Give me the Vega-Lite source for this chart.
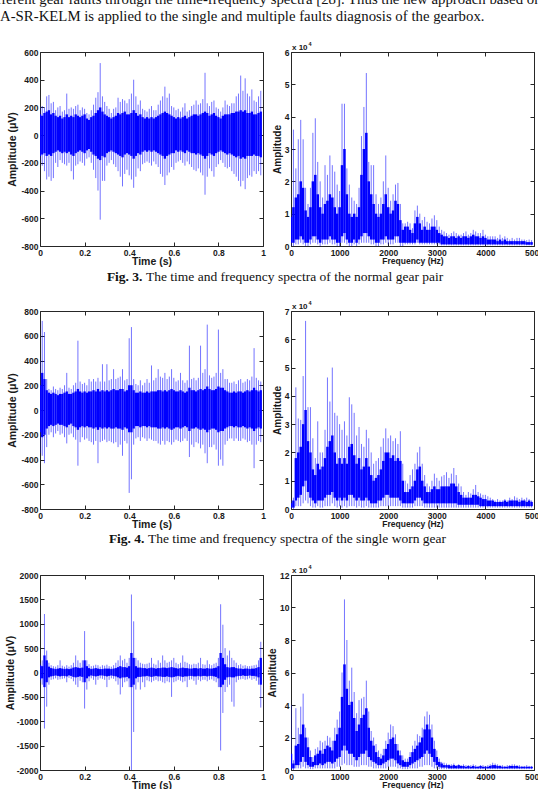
{
"$schema": "https://vega.github.io/schema/vega-lite/v6.json",
"autosize": {"type": "none"},
"padding": {"left": 40, "top": 0, "right": 498, "bottom": 789},
"background": "white",
"columns": 2,
"spacing": {"row": 0, "column": 28},
"align": "each",
"bounds": "flush",
"config": {
 "view": {"stroke": "#262626", "strokeWidth": 1},
 "axis": {"grid": false, "domain": false, "labelFont": "Liberation Sans", "labelFontWeight": "bold", "labelFontSize": 8.5, "labelColor": "#1a1a1a", "titleFont": "Liberation Sans", "titleFontWeight": "bold", "titleColor": "#1a1a1a", "tickColor": "#262626", "tickSize": -4, "labelPadding": 6, "labelFlush": false, "labelOverlap": false}
},
"datasets": {
 "p1": [
{"x":0.00,"a":-150,"b":150,"c":-180,"d":200},{"x":0.01,"a":-140,"b":140,"c":-220,"d":210},{"x":0.02,"a":-130,"b":160,"c":-260,"d":200},{"x":0.03,"a":-150,"b":170,"c":-320,"d":280},{"x":0.04,"a":-140,"b":180,"c":-300,"d":290},{"x":0.05,"a":-150,"b":150,"c":-330,"d":230},{"x":0.06,"a":-130,"b":160,"c":-310,"d":240},{"x":0.07,"a":-120,"b":140,"c":-200,"d":180},{"x":0.08,"a":-110,"b":130,"c":-230,"d":200},{"x":0.09,"a":-120,"b":140,"c":-180,"d":210},
{"x":0.10,"a":-130,"b":120,"c":-200,"d":170},{"x":0.11,"a":-120,"b":130,"c":-210,"d":180},{"x":0.12,"a":-130,"b":150,"c":-220,"d":300},{"x":0.13,"a":-120,"b":130,"c":-200,"d":190},{"x":0.14,"a":-140,"b":140,"c":-260,"d":200},{"x":0.15,"a":-150,"b":130,"c":-320,"d":190},{"x":0.16,"a":-130,"b":150,"c":-220,"d":210},{"x":0.17,"a":-120,"b":140,"c":-210,"d":220},{"x":0.18,"a":-110,"b":130,"c":-190,"d":180},{"x":0.19,"a":-120,"b":140,"c":-200,"d":200},
{"x":0.20,"a":-130,"b":150,"c":-220,"d":190},{"x":0.21,"a":-110,"b":120,"c":-170,"d":160},{"x":0.22,"a":-100,"b":110,"c":-160,"d":150},{"x":0.23,"a":-120,"b":130,"c":-200,"d":180},{"x":0.24,"a":-140,"b":140,"c":-250,"d":220},{"x":0.25,"a":-150,"b":160,"c":-310,"d":270},{"x":0.26,"a":-170,"b":180,"c":-400,"d":310},{"x":0.27,"a":-180,"b":200,"c":-610,"d":520},{"x":0.28,"a":-150,"b":170,"c":-330,"d":280},{"x":0.29,"a":-160,"b":150,"c":-330,"d":240},
{"x":0.30,"a":-130,"b":140,"c":-220,"d":210},{"x":0.31,"a":-120,"b":130,"c":-200,"d":190},{"x":0.32,"a":-110,"b":120,"c":-180,"d":160},{"x":0.33,"a":-120,"b":130,"c":-210,"d":190},{"x":0.34,"a":-130,"b":140,"c":-230,"d":200},{"x":0.35,"a":-140,"b":160,"c":-260,"d":270},{"x":0.36,"a":-150,"b":150,"c":-300,"d":240},{"x":0.37,"a":-160,"b":160,"c":-370,"d":260},{"x":0.38,"a":-140,"b":170,"c":-280,"d":250},{"x":0.39,"a":-130,"b":150,"c":-250,"d":230},
{"x":0.40,"a":-140,"b":150,"c":-290,"d":260},{"x":0.41,"a":-150,"b":160,"c":-320,"d":300},{"x":0.42,"a":-170,"b":180,"c":-380,"d":400},{"x":0.43,"a":-150,"b":160,"c":-300,"d":280},{"x":0.44,"a":-130,"b":140,"c":-240,"d":220},{"x":0.45,"a":-140,"b":150,"c":-260,"d":250},{"x":0.46,"a":-120,"b":130,"c":-210,"d":190},{"x":0.47,"a":-110,"b":120,"c":-200,"d":180},{"x":0.48,"a":-120,"b":130,"c":-190,"d":170},{"x":0.49,"a":-110,"b":120,"c":-200,"d":190},
{"x":0.50,"a":-120,"b":130,"c":-220,"d":210},{"x":0.51,"a":-110,"b":120,"c":-190,"d":180},{"x":0.52,"a":-120,"b":130,"c":-210,"d":180},{"x":0.53,"a":-130,"b":140,"c":-230,"d":220},{"x":0.54,"a":-140,"b":150,"c":-280,"d":250},{"x":0.55,"a":-150,"b":160,"c":-300,"d":280},{"x":0.56,"a":-170,"b":170,"c":-360,"d":350},{"x":0.57,"a":-150,"b":160,"c":-290,"d":270},{"x":0.58,"a":-140,"b":150,"c":-270,"d":300},{"x":0.59,"a":-130,"b":140,"c":-230,"d":210},
{"x":0.60,"a":-130,"b":130,"c":-250,"d":200},{"x":0.61,"a":-110,"b":120,"c":-200,"d":180},{"x":0.62,"a":-120,"b":130,"c":-190,"d":190},{"x":0.63,"a":-110,"b":120,"c":-180,"d":170},{"x":0.64,"a":-120,"b":130,"c":-200,"d":200},{"x":0.65,"a":-130,"b":140,"c":-220,"d":230},{"x":0.66,"a":-110,"b":120,"c":-190,"d":170},{"x":0.67,"a":-120,"b":130,"c":-210,"d":180},{"x":0.68,"a":-130,"b":140,"c":-230,"d":210},{"x":0.69,"a":-130,"b":150,"c":-250,"d":220},
{"x":0.70,"a":-140,"b":150,"c":-260,"d":250},{"x":0.71,"a":-130,"b":140,"c":-240,"d":220},{"x":0.72,"a":-140,"b":150,"c":-270,"d":230},{"x":0.73,"a":-150,"b":160,"c":-290,"d":260},{"x":0.74,"a":-170,"b":170,"c":-430,"d":450},{"x":0.75,"a":-150,"b":160,"c":-300,"d":230},{"x":0.76,"a":-130,"b":140,"c":-240,"d":210},{"x":0.77,"a":-140,"b":150,"c":-260,"d":240},{"x":0.78,"a":-150,"b":160,"c":-300,"d":250},{"x":0.79,"a":-130,"b":140,"c":-230,"d":200},
{"x":0.80,"a":-120,"b":130,"c":-210,"d":190},{"x":0.81,"a":-110,"b":120,"c":-180,"d":170},{"x":0.82,"a":-120,"b":140,"c":-200,"d":200},{"x":0.83,"a":-130,"b":150,"c":-230,"d":250},{"x":0.84,"a":-140,"b":150,"c":-240,"d":220},{"x":0.85,"a":-130,"b":150,"c":-230,"d":210},{"x":0.86,"a":-140,"b":160,"c":-260,"d":230},{"x":0.87,"a":-150,"b":160,"c":-280,"d":230},{"x":0.88,"a":-160,"b":170,"c":-300,"d":280},{"x":0.89,"a":-150,"b":170,"c":-330,"d":300},
{"x":0.90,"a":-170,"b":180,"c":-370,"d":430},{"x":0.91,"a":-160,"b":170,"c":-330,"d":320},{"x":0.92,"a":-170,"b":180,"c":-390,"d":410},{"x":0.93,"a":-150,"b":160,"c":-310,"d":300},{"x":0.94,"a":-150,"b":160,"c":-290,"d":280},{"x":0.95,"a":-150,"b":170,"c":-300,"d":330},{"x":0.96,"a":-140,"b":150,"c":-260,"d":250},{"x":0.97,"a":-150,"b":150,"c":-280,"d":240},{"x":0.98,"a":-150,"b":160,"c":-260,"d":280},{"x":0.99,"a":-160,"b":170,"c":-290,"d":320}
 ],
 "p2": [
{"x":0,"a":0.1,"b":0.9,"c":0,"d":1.0},{"x":50,"a":0.1,"b":1.2,"c":0,"d":3.6},{"x":100,"a":0.2,"b":1.5,"c":0.05,"d":2.4},{"x":150,"a":0.2,"b":1.6,"c":0.05,"d":3.3},{"x":200,"a":0.3,"b":2.0,"c":0.1,"d":3.9},{"x":250,"a":0.2,"b":1.8,"c":0.05,"d":3.3},{"x":300,"a":0.1,"b":1.1,"c":0,"d":1.8},{"x":350,"a":0.1,"b":0.9,"c":0,"d":1.3},{"x":400,"a":0.2,"b":1.2,"c":0.05,"d":1.8},{"x":450,"a":0.3,"b":2.0,"c":0.1,"d":3.5},
{"x":500,"a":0.3,"b":2.2,"c":0.1,"d":3.95},{"x":550,"a":0.2,"b":1.6,"c":0.05,"d":2.6},{"x":600,"a":0.1,"b":1.2,"c":0,"d":2.0},{"x":650,"a":0.2,"b":1.0,"c":0.05,"d":1.5},{"x":700,"a":0.2,"b":1.3,"c":0.05,"d":2.5},{"x":750,"a":0.2,"b":1.4,"c":0.05,"d":2.2},{"x":800,"a":0.3,"b":1.6,"c":0.1,"d":2.8},{"x":850,"a":0.2,"b":1.5,"c":0.05,"d":2.5},{"x":900,"a":0.2,"b":1.2,"c":0.05,"d":2.3},{"x":950,"a":0.1,"b":1.0,"c":0,"d":1.9},
{"x":1000,"a":0.1,"b":1.2,"c":0,"d":1.7},{"x":1050,"a":0.3,"b":2.5,"c":0.1,"d":4.4},{"x":1100,"a":0.4,"b":3.0,"c":0.1,"d":4.4},{"x":1150,"a":0.2,"b":1.6,"c":0.05,"d":2.4},{"x":1200,"a":0.1,"b":1.0,"c":0,"d":1.9},{"x":1250,"a":0.1,"b":0.9,"c":0,"d":1.5},{"x":1300,"a":0.2,"b":1.0,"c":0.05,"d":1.4},{"x":1350,"a":0.1,"b":0.9,"c":0,"d":1.3},{"x":1400,"a":0.2,"b":1.2,"c":0.05,"d":1.8},{"x":1450,"a":0.3,"b":2.2,"c":0.1,"d":3.4},
{"x":1500,"a":0.4,"b":3.0,"c":0.1,"d":4.3},{"x":1550,"a":0.4,"b":3.5,"c":0.1,"d":5.35},{"x":1600,"a":0.3,"b":2.0,"c":0.1,"d":2.6},{"x":1650,"a":0.2,"b":1.6,"c":0.05,"d":2.5},{"x":1700,"a":0.2,"b":1.3,"c":0.05,"d":2.5},{"x":1750,"a":0.1,"b":1.0,"c":0,"d":1.6},{"x":1800,"a":0.1,"b":0.9,"c":0,"d":1.3},{"x":1850,"a":0.2,"b":1.0,"c":0.05,"d":1.5},{"x":1900,"a":0.2,"b":1.3,"c":0.05,"d":2.0},{"x":1950,"a":0.3,"b":1.6,"c":0.1,"d":2.8},
{"x":2000,"a":0.2,"b":1.2,"c":0.05,"d":1.8},{"x":2050,"a":0.2,"b":1.0,"c":0.05,"d":1.4},{"x":2100,"a":0.2,"b":1.1,"c":0.05,"d":1.6},{"x":2150,"a":0.3,"b":1.4,"c":0.1,"d":1.9},{"x":2200,"a":0.3,"b":1.3,"c":0.1,"d":1.95},{"x":2250,"a":0.1,"b":0.8,"c":0,"d":1.3},{"x":2300,"a":0.1,"b":0.5,"c":0,"d":0.7},{"x":2350,"a":0.1,"b":0.6,"c":0.05,"d":0.7},{"x":2400,"a":0.1,"b":0.6,"c":0.05,"d":0.75},{"x":2450,"a":0.1,"b":0.5,"c":0.05,"d":0.7},
{"x":2500,"a":0.1,"b":0.4,"c":0.05,"d":0.55},{"x":2550,"a":0.1,"b":0.7,"c":0.05,"d":1.1},{"x":2600,"a":0.2,"b":0.9,"c":0.1,"d":1.25},{"x":2650,"a":0.1,"b":0.7,"c":0.05,"d":1.0},{"x":2700,"a":0.1,"b":0.5,"c":0.05,"d":0.8},{"x":2750,"a":0.1,"b":0.6,"c":0.05,"d":0.9},{"x":2800,"a":0.1,"b":0.5,"c":0.05,"d":0.75},{"x":2850,"a":0.1,"b":0.5,"c":0.05,"d":0.7},{"x":2900,"a":0.1,"b":0.6,"c":0.05,"d":0.85},{"x":2950,"a":0.1,"b":0.6,"c":0.05,"d":0.95},
{"x":3000,"a":0.1,"b":0.5,"c":0.05,"d":0.8},{"x":3050,"a":0.1,"b":0.4,"c":0.05,"d":0.6},{"x":3100,"a":0.05,"b":0.35,"c":0.02,"d":0.5},{"x":3150,"a":0.05,"b":0.3,"c":0.02,"d":0.45},{"x":3200,"a":0.05,"b":0.3,"c":0.02,"d":0.4},{"x":3250,"a":0.05,"b":0.25,"c":0.02,"d":0.35},{"x":3300,"a":0.05,"b":0.3,"c":0.02,"d":0.4},{"x":3350,"a":0.05,"b":0.3,"c":0.02,"d":0.45},{"x":3400,"a":0.05,"b":0.25,"c":0.02,"d":0.4},{"x":3450,"a":0.05,"b":0.3,"c":0.02,"d":0.35},
{"x":3500,"a":0.05,"b":0.25,"c":0.02,"d":0.35},{"x":3550,"a":0.05,"b":0.3,"c":0.02,"d":0.4},{"x":3600,"a":0.05,"b":0.3,"c":0.02,"d":0.45},{"x":3650,"a":0.05,"b":0.25,"c":0.02,"d":0.35},{"x":3700,"a":0.05,"b":0.3,"c":0.02,"d":0.4},{"x":3750,"a":0.05,"b":0.35,"c":0.02,"d":0.5},{"x":3800,"a":0.05,"b":0.3,"c":0.02,"d":0.45},{"x":3850,"a":0.05,"b":0.3,"c":0.02,"d":0.4},{"x":3900,"a":0.05,"b":0.25,"c":0.02,"d":0.4},{"x":3950,"a":0.05,"b":0.3,"c":0.02,"d":0.5},
{"x":4000,"a":0.05,"b":0.25,"c":0.02,"d":0.35},{"x":4050,"a":0.05,"b":0.2,"c":0.02,"d":0.3},{"x":4100,"a":0.05,"b":0.2,"c":0.02,"d":0.3},{"x":4150,"a":0.05,"b":0.2,"c":0.02,"d":0.3},{"x":4200,"a":0.05,"b":0.2,"c":0.02,"d":0.3},{"x":4250,"a":0.05,"b":0.15,"c":0.02,"d":0.25},{"x":4300,"a":0.05,"b":0.2,"c":0.02,"d":0.35},{"x":4350,"a":0.05,"b":0.15,"c":0.02,"d":0.25},{"x":4400,"a":0.05,"b":0.2,"c":0.02,"d":0.3},{"x":4450,"a":0.05,"b":0.15,"c":0.02,"d":0.25},
{"x":4500,"a":0.05,"b":0.15,"c":0.02,"d":0.2},{"x":4550,"a":0.05,"b":0.15,"c":0.02,"d":0.25},{"x":4600,"a":0.05,"b":0.15,"c":0.02,"d":0.2},{"x":4650,"a":0.05,"b":0.15,"c":0.02,"d":0.25},{"x":4700,"a":0.05,"b":0.15,"c":0.02,"d":0.25},{"x":4750,"a":0.05,"b":0.15,"c":0.02,"d":0.2},{"x":4800,"a":0.05,"b":0.15,"c":0.02,"d":0.2},{"x":4850,"a":0.04,"b":0.12,"c":0.02,"d":0.18},{"x":4900,"a":0.04,"b":0.12,"c":0.02,"d":0.2},{"x":4950,"a":0.04,"b":0.12,"c":0.02,"d":0.18}
 ],
 "p3": [
{"x":0.00,"a":-180,"b":200,"c":-350,"d":400},{"x":0.01,"a":-220,"b":300,"c":-370,"d":720},{"x":0.02,"a":-200,"b":250,"c":-430,"d":630},{"x":0.03,"a":-150,"b":160,"c":-300,"d":250},{"x":0.04,"a":-130,"b":140,"c":-200,"d":170},{"x":0.05,"a":-120,"b":130,"c":-180,"d":160},{"x":0.06,"a":-130,"b":140,"c":-220,"d":190},{"x":0.07,"a":-120,"b":130,"c":-190,"d":170},{"x":0.08,"a":-110,"b":120,"c":-170,"d":160},{"x":0.09,"a":-120,"b":130,"c":-200,"d":180},
{"x":0.10,"a":-120,"b":130,"c":-190,"d":170},{"x":0.11,"a":-130,"b":140,"c":-220,"d":200},{"x":0.12,"a":-140,"b":150,"c":-270,"d":300},{"x":0.13,"a":-120,"b":130,"c":-200,"d":180},{"x":0.14,"a":-110,"b":130,"c":-190,"d":170},{"x":0.15,"a":-130,"b":140,"c":-220,"d":200},{"x":0.16,"a":-140,"b":150,"c":-240,"d":220},{"x":0.17,"a":-160,"b":170,"c":-450,"d":560},{"x":0.18,"a":-140,"b":150,"c":-260,"d":230},{"x":0.19,"a":-130,"b":140,"c":-220,"d":210},
{"x":0.20,"a":-140,"b":150,"c":-240,"d":220},{"x":0.21,"a":-130,"b":140,"c":-230,"d":200},{"x":0.22,"a":-140,"b":150,"c":-250,"d":250},{"x":0.23,"a":-140,"b":150,"c":-260,"d":230},{"x":0.24,"a":-150,"b":160,"c":-280,"d":250},{"x":0.25,"a":-140,"b":150,"c":-250,"d":230},{"x":0.26,"a":-160,"b":170,"c":-430,"d":260},{"x":0.27,"a":-140,"b":150,"c":-260,"d":230},{"x":0.28,"a":-150,"b":160,"c":-250,"d":370},{"x":0.29,"a":-140,"b":150,"c":-240,"d":230},
{"x":0.30,"a":-150,"b":160,"c":-260,"d":370},{"x":0.31,"a":-140,"b":150,"c":-250,"d":240},{"x":0.32,"a":-150,"b":160,"c":-260,"d":250},{"x":0.33,"a":-150,"b":170,"c":-270,"d":330},{"x":0.34,"a":-140,"b":160,"c":-260,"d":250},{"x":0.35,"a":-150,"b":160,"c":-300,"d":260},{"x":0.36,"a":-150,"b":170,"c":-280,"d":270},{"x":0.37,"a":-160,"b":170,"c":-370,"d":330},{"x":0.38,"a":-140,"b":150,"c":-250,"d":240},{"x":0.39,"a":-150,"b":160,"c":-270,"d":250},
{"x":0.40,"a":-180,"b":200,"c":-670,"d":580},{"x":0.41,"a":-180,"b":200,"c":-560,"d":670},{"x":0.42,"a":-150,"b":160,"c":-280,"d":250},{"x":0.43,"a":-130,"b":140,"c":-230,"d":210},{"x":0.44,"a":-130,"b":140,"c":-220,"d":200},{"x":0.45,"a":-140,"b":150,"c":-250,"d":240},{"x":0.46,"a":-130,"b":140,"c":-220,"d":200},{"x":0.47,"a":-130,"b":140,"c":-230,"d":220},{"x":0.48,"a":-140,"b":150,"c":-250,"d":250},{"x":0.49,"a":-130,"b":140,"c":-230,"d":220},
{"x":0.50,"a":-140,"b":150,"c":-240,"d":360},{"x":0.51,"a":-140,"b":150,"c":-250,"d":240},{"x":0.52,"a":-140,"b":150,"c":-250,"d":260},{"x":0.53,"a":-150,"b":160,"c":-270,"d":330},{"x":0.54,"a":-150,"b":160,"c":-280,"d":270},{"x":0.55,"a":-140,"b":150,"c":-250,"d":260},{"x":0.56,"a":-150,"b":160,"c":-280,"d":300},{"x":0.57,"a":-140,"b":150,"c":-250,"d":250},{"x":0.58,"a":-150,"b":160,"c":-260,"d":270},{"x":0.59,"a":-160,"b":170,"c":-280,"d":330},
{"x":0.60,"a":-150,"b":160,"c":-260,"d":260},{"x":0.61,"a":-140,"b":150,"c":-240,"d":230},{"x":0.62,"a":-140,"b":150,"c":-250,"d":240},{"x":0.63,"a":-150,"b":160,"c":-260,"d":300},{"x":0.64,"a":-140,"b":150,"c":-250,"d":240},{"x":0.65,"a":-130,"b":140,"c":-230,"d":220},{"x":0.66,"a":-140,"b":150,"c":-250,"d":240},{"x":0.67,"a":-170,"b":180,"c":-380,"d":520},{"x":0.68,"a":-150,"b":160,"c":-280,"d":250},{"x":0.69,"a":-150,"b":160,"c":-300,"d":260},
{"x":0.70,"a":-140,"b":150,"c":-260,"d":240},{"x":0.71,"a":-150,"b":160,"c":-270,"d":260},{"x":0.72,"a":-160,"b":170,"c":-310,"d":520},{"x":0.73,"a":-150,"b":160,"c":-280,"d":300},{"x":0.74,"a":-160,"b":170,"c":-350,"d":330},{"x":0.75,"a":-180,"b":190,"c":-430,"d":690},{"x":0.76,"a":-160,"b":170,"c":-300,"d":280},{"x":0.77,"a":-150,"b":160,"c":-300,"d":260},{"x":0.78,"a":-150,"b":160,"c":-280,"d":270},{"x":0.79,"a":-160,"b":170,"c":-320,"d":300},
{"x":0.80,"a":-180,"b":190,"c":-450,"d":650},{"x":0.81,"a":-170,"b":180,"c":-400,"d":300},{"x":0.82,"a":-170,"b":180,"c":-450,"d":330},{"x":0.83,"a":-150,"b":160,"c":-280,"d":250},{"x":0.84,"a":-140,"b":150,"c":-250,"d":250},{"x":0.85,"a":-130,"b":140,"c":-230,"d":220},{"x":0.86,"a":-130,"b":140,"c":-230,"d":220},{"x":0.87,"a":-140,"b":150,"c":-250,"d":230},{"x":0.88,"a":-130,"b":140,"c":-230,"d":210},{"x":0.89,"a":-140,"b":150,"c":-250,"d":240},
{"x":0.90,"a":-140,"b":150,"c":-250,"d":250},{"x":0.91,"a":-130,"b":140,"c":-230,"d":220},{"x":0.92,"a":-140,"b":150,"c":-240,"d":230},{"x":0.93,"a":-150,"b":160,"c":-260,"d":250},{"x":0.94,"a":-140,"b":150,"c":-250,"d":240},{"x":0.95,"a":-150,"b":160,"c":-280,"d":270},{"x":0.96,"a":-170,"b":180,"c":-470,"d":500},{"x":0.97,"a":-150,"b":160,"c":-280,"d":260},{"x":0.98,"a":-140,"b":150,"c":-250,"d":240},{"x":0.99,"a":-150,"b":160,"c":-260,"d":230}
 ],
 "p4": [
{"x":0,"a":0.05,"b":0.2,"c":0,"d":0.3},{"x":50,"a":0.05,"b":0.3,"c":0,"d":0.4},{"x":100,"a":0.3,"b":1.8,"c":0.1,"d":4.3},{"x":150,"a":0.4,"b":2.0,"c":0.1,"d":3.2},{"x":200,"a":0.5,"b":2.2,"c":0.1,"d":3.15},{"x":250,"a":0.8,"b":3.0,"c":0.2,"d":4.7},{"x":300,"a":1.0,"b":3.5,"c":0.3,"d":6.65},{"x":350,"a":0.6,"b":2.4,"c":0.2,"d":3.6},{"x":400,"a":0.4,"b":2.0,"c":0.1,"d":3.6},{"x":450,"a":0.3,"b":1.4,"c":0.05,"d":2.5},
{"x":500,"a":0.2,"b":1.2,"c":0.05,"d":1.8},{"x":550,"a":0.3,"b":1.6,"c":0.1,"d":3.1},{"x":600,"a":0.3,"b":1.4,"c":0.05,"d":2.0},{"x":650,"a":0.3,"b":1.5,"c":0.05,"d":2.0},{"x":700,"a":0.4,"b":1.8,"c":0.1,"d":2.8},{"x":750,"a":0.5,"b":2.2,"c":0.1,"d":4.65},{"x":800,"a":0.5,"b":2.4,"c":0.1,"d":3.8},{"x":850,"a":0.6,"b":2.6,"c":0.2,"d":5.0},{"x":900,"a":0.4,"b":2.0,"c":0.1,"d":3.4},{"x":950,"a":0.3,"b":1.6,"c":0.05,"d":3.3},
{"x":1000,"a":0.4,"b":1.8,"c":0.1,"d":3.0},{"x":1050,"a":0.3,"b":1.6,"c":0.05,"d":2.8},{"x":1100,"a":0.4,"b":1.8,"c":0.1,"d":3.1},{"x":1150,"a":0.3,"b":1.6,"c":0.05,"d":2.6},{"x":1200,"a":0.5,"b":2.2,"c":0.1,"d":3.95},{"x":1250,"a":0.5,"b":2.3,"c":0.1,"d":3.7},{"x":1300,"a":0.4,"b":1.9,"c":0.1,"d":3.4},{"x":1350,"a":0.3,"b":1.6,"c":0.05,"d":2.6},{"x":1400,"a":0.4,"b":1.8,"c":0.1,"d":2.9},{"x":1450,"a":0.3,"b":1.4,"c":0.05,"d":2.3},
{"x":1500,"a":0.3,"b":1.5,"c":0.05,"d":2.2},{"x":1550,"a":0.4,"b":1.8,"c":0.1,"d":2.8},{"x":1600,"a":0.3,"b":1.5,"c":0.05,"d":2.5},{"x":1650,"a":0.2,"b":1.2,"c":0.05,"d":2.0},{"x":1700,"a":0.2,"b":1.0,"c":0.05,"d":1.6},{"x":1750,"a":0.2,"b":1.1,"c":0.05,"d":1.7},{"x":1800,"a":0.3,"b":1.2,"c":0.05,"d":1.8},{"x":1850,"a":0.3,"b":1.4,"c":0.1,"d":2.2},{"x":1900,"a":0.4,"b":1.7,"c":0.1,"d":2.5},{"x":1950,"a":0.5,"b":2.0,"c":0.1,"d":2.85},
{"x":2000,"a":0.5,"b":2.0,"c":0.1,"d":2.5},{"x":2050,"a":0.4,"b":1.8,"c":0.1,"d":2.6},{"x":2100,"a":0.4,"b":1.9,"c":0.1,"d":2.4},{"x":2150,"a":0.4,"b":1.7,"c":0.1,"d":2.5},{"x":2200,"a":0.4,"b":1.8,"c":0.1,"d":2.3},{"x":2250,"a":0.3,"b":1.7,"c":0.1,"d":2.75},{"x":2300,"a":0.2,"b":1.0,"c":0.05,"d":1.6},{"x":2350,"a":0.2,"b":0.6,"c":0.05,"d":1.0},{"x":2400,"a":0.2,"b":0.6,"c":0.05,"d":0.9},{"x":2450,"a":0.2,"b":0.7,"c":0.05,"d":1.2},
{"x":2500,"a":0.2,"b":0.8,"c":0.05,"d":1.4},{"x":2550,"a":0.3,"b":1.0,"c":0.1,"d":1.6},{"x":2600,"a":0.4,"b":1.4,"c":0.1,"d":2.0},{"x":2650,"a":0.4,"b":1.5,"c":0.1,"d":2.2},{"x":2700,"a":0.3,"b":1.0,"c":0.1,"d":1.6},{"x":2750,"a":0.2,"b":0.8,"c":0.05,"d":1.2},{"x":2800,"a":0.2,"b":0.6,"c":0.05,"d":0.9},{"x":2850,"a":0.2,"b":0.6,"c":0.05,"d":0.8},{"x":2900,"a":0.2,"b":0.7,"c":0.05,"d":1.0},{"x":2950,"a":0.2,"b":0.8,"c":0.05,"d":1.25},
{"x":3000,"a":0.2,"b":0.7,"c":0.05,"d":1.1},{"x":3050,"a":0.2,"b":0.7,"c":0.05,"d":1.0},{"x":3100,"a":0.2,"b":0.8,"c":0.05,"d":1.15},{"x":3150,"a":0.2,"b":0.8,"c":0.05,"d":1.2},{"x":3200,"a":0.2,"b":0.8,"c":0.05,"d":1.3},{"x":3250,"a":0.2,"b":0.8,"c":0.05,"d":1.1},{"x":3300,"a":0.2,"b":0.9,"c":0.05,"d":1.25},{"x":3350,"a":0.2,"b":0.9,"c":0.05,"d":1.45},{"x":3400,"a":0.2,"b":0.8,"c":0.05,"d":1.2},{"x":3450,"a":0.15,"b":0.6,"c":0.05,"d":0.9},
{"x":3500,"a":0.15,"b":0.5,"c":0.05,"d":0.8},{"x":3550,"a":0.15,"b":0.4,"c":0.05,"d":0.6},{"x":3600,"a":0.15,"b":0.4,"c":0.05,"d":0.5},{"x":3650,"a":0.15,"b":0.4,"c":0.05,"d":0.6},{"x":3700,"a":0.15,"b":0.4,"c":0.05,"d":0.55},{"x":3750,"a":0.15,"b":0.5,"c":0.05,"d":0.7},{"x":3800,"a":0.15,"b":0.5,"c":0.05,"d":0.85},{"x":3850,"a":0.15,"b":0.45,"c":0.05,"d":0.6},{"x":3900,"a":0.1,"b":0.4,"c":0.05,"d":0.55},{"x":3950,"a":0.1,"b":0.35,"c":0.05,"d":0.5},
{"x":4000,"a":0.1,"b":0.35,"c":0.05,"d":0.5},{"x":4050,"a":0.1,"b":0.3,"c":0.05,"d":0.45},{"x":4100,"a":0.1,"b":0.3,"c":0.05,"d":0.4},{"x":4150,"a":0.1,"b":0.3,"c":0.05,"d":0.35},{"x":4200,"a":0.1,"b":0.25,"c":0.05,"d":0.3},{"x":4250,"a":0.1,"b":0.25,"c":0.05,"d":0.35},{"x":4300,"a":0.1,"b":0.25,"c":0.05,"d":0.3},{"x":4350,"a":0.1,"b":0.25,"c":0.05,"d":0.3},{"x":4400,"a":0.1,"b":0.3,"c":0.05,"d":0.35},{"x":4450,"a":0.1,"b":0.25,"c":0.05,"d":0.3},
{"x":4500,"a":0.1,"b":0.3,"c":0.05,"d":0.4},{"x":4550,"a":0.1,"b":0.3,"c":0.05,"d":0.35},{"x":4600,"a":0.1,"b":0.3,"c":0.05,"d":0.45},{"x":4650,"a":0.1,"b":0.3,"c":0.05,"d":0.4},{"x":4700,"a":0.1,"b":0.25,"c":0.05,"d":0.35},{"x":4750,"a":0.1,"b":0.3,"c":0.05,"d":0.4},{"x":4800,"a":0.1,"b":0.3,"c":0.05,"d":0.35},{"x":4850,"a":0.1,"b":0.25,"c":0.05,"d":0.4},{"x":4900,"a":0.1,"b":0.3,"c":0.05,"d":0.35},{"x":4950,"a":0.1,"b":0.25,"c":0.05,"d":0.3}
 ],
 "p5": [
{"x":0.00,"a":-150,"b":150,"c":-200,"d":200},{"x":0.01,"a":-120,"b":130,"c":-250,"d":250},{"x":0.02,"a":-300,"b":350,"c":-1150,"d":1200},{"x":0.03,"a":-200,"b":250,"c":-700,"d":450},{"x":0.04,"a":-100,"b":120,"c":-250,"d":200},{"x":0.05,"a":-80,"b":90,"c":-150,"d":150},{"x":0.06,"a":-70,"b":80,"c":-140,"d":130},{"x":0.07,"a":-60,"b":70,"c":-120,"d":120},{"x":0.08,"a":-70,"b":80,"c":-150,"d":150},{"x":0.09,"a":-80,"b":90,"c":-140,"d":250},
{"x":0.10,"a":-70,"b":80,"c":-130,"d":140},{"x":0.11,"a":-70,"b":70,"c":-120,"d":120},{"x":0.12,"a":-80,"b":80,"c":-200,"d":150},{"x":0.13,"a":-60,"b":70,"c":-110,"d":120},{"x":0.14,"a":-70,"b":80,"c":-130,"d":150},{"x":0.15,"a":-90,"b":100,"c":-180,"d":200},{"x":0.16,"a":-100,"b":110,"c":-250,"d":350},{"x":0.17,"a":-90,"b":100,"c":-300,"d":250},{"x":0.18,"a":-80,"b":90,"c":-170,"d":200},{"x":0.19,"a":-90,"b":100,"c":-200,"d":250},
{"x":0.20,"a":-200,"b":250,"c":-740,"d":850},{"x":0.21,"a":-120,"b":130,"c":-350,"d":250},{"x":0.22,"a":-80,"b":90,"c":-180,"d":170},{"x":0.23,"a":-60,"b":70,"c":-120,"d":130},{"x":0.24,"a":-70,"b":80,"c":-150,"d":140},{"x":0.25,"a":-80,"b":90,"c":-250,"d":160},{"x":0.26,"a":-70,"b":80,"c":-150,"d":150},{"x":0.27,"a":-60,"b":70,"c":-120,"d":120},{"x":0.28,"a":-60,"b":70,"c":-130,"d":150},{"x":0.29,"a":-70,"b":80,"c":-150,"d":140},
{"x":0.30,"a":-80,"b":80,"c":-300,"d":160},{"x":0.31,"a":-70,"b":80,"c":-150,"d":130},{"x":0.32,"a":-60,"b":70,"c":-120,"d":120},{"x":0.33,"a":-70,"b":80,"c":-130,"d":150},{"x":0.34,"a":-80,"b":90,"c":-180,"d":200},{"x":0.35,"a":-100,"b":110,"c":-250,"d":250},{"x":0.36,"a":-120,"b":130,"c":-450,"d":350},{"x":0.37,"a":-100,"b":110,"c":-300,"d":250},{"x":0.38,"a":-100,"b":110,"c":-200,"d":280},{"x":0.39,"a":-90,"b":100,"c":-180,"d":200},
{"x":0.40,"a":-120,"b":130,"c":-300,"d":300},{"x":0.41,"a":-300,"b":400,"c":-2000,"d":1600},{"x":0.42,"a":-250,"b":300,"c":-1220,"d":1050},{"x":0.43,"a":-120,"b":130,"c":-350,"d":300},{"x":0.44,"a":-90,"b":100,"c":-200,"d":250},{"x":0.45,"a":-90,"b":100,"c":-350,"d":200},{"x":0.46,"a":-80,"b":90,"c":-200,"d":180},{"x":0.47,"a":-80,"b":90,"c":-300,"d":170},{"x":0.48,"a":-70,"b":80,"c":-160,"d":180},{"x":0.49,"a":-80,"b":90,"c":-180,"d":200},
{"x":0.50,"a":-90,"b":100,"c":-200,"d":300},{"x":0.51,"a":-80,"b":90,"c":-170,"d":180},{"x":0.52,"a":-70,"b":80,"c":-150,"d":160},{"x":0.53,"a":-80,"b":90,"c":-180,"d":250},{"x":0.54,"a":-80,"b":90,"c":-170,"d":200},{"x":0.55,"a":-90,"b":100,"c":-200,"d":350},{"x":0.56,"a":-90,"b":100,"c":-220,"d":250},{"x":0.57,"a":-80,"b":90,"c":-180,"d":200},{"x":0.58,"a":-90,"b":100,"c":-200,"d":220},{"x":0.59,"a":-100,"b":110,"c":-500,"d":250},
{"x":0.60,"a":-90,"b":100,"c":-200,"d":300},{"x":0.61,"a":-80,"b":90,"c":-180,"d":200},{"x":0.62,"a":-70,"b":80,"c":-150,"d":170},{"x":0.63,"a":-80,"b":90,"c":-170,"d":200},{"x":0.64,"a":-90,"b":100,"c":-200,"d":350},{"x":0.65,"a":-80,"b":90,"c":-180,"d":220},{"x":0.66,"a":-80,"b":90,"c":-300,"d":200},{"x":0.67,"a":-70,"b":80,"c":-150,"d":170},{"x":0.68,"a":-70,"b":80,"c":-140,"d":160},{"x":0.69,"a":-80,"b":90,"c":-170,"d":180},
{"x":0.70,"a":-80,"b":90,"c":-250,"d":170},{"x":0.71,"a":-70,"b":80,"c":-150,"d":200},{"x":0.72,"a":-80,"b":90,"c":-180,"d":300},{"x":0.73,"a":-70,"b":80,"c":-150,"d":170},{"x":0.74,"a":-70,"b":80,"c":-150,"d":160},{"x":0.75,"a":-80,"b":90,"c":-180,"d":250},{"x":0.76,"a":-70,"b":80,"c":-150,"d":170},{"x":0.77,"a":-70,"b":80,"c":-140,"d":150},{"x":0.78,"a":-80,"b":90,"c":-170,"d":180},{"x":0.79,"a":-90,"b":100,"c":-200,"d":200},
{"x":0.80,"a":-120,"b":130,"c":-300,"d":300},{"x":0.81,"a":-300,"b":400,"c":-1600,"d":1400},{"x":0.82,"a":-250,"b":300,"c":-830,"d":980},{"x":0.83,"a":-150,"b":170,"c":-400,"d":500},{"x":0.84,"a":-100,"b":110,"c":-300,"d":350},{"x":0.85,"a":-90,"b":100,"c":-250,"d":450},{"x":0.86,"a":-100,"b":110,"c":-600,"d":300},{"x":0.87,"a":-100,"b":110,"c":-700,"d":250},{"x":0.88,"a":-80,"b":90,"c":-200,"d":200},{"x":0.89,"a":-70,"b":80,"c":-150,"d":150},
{"x":0.90,"a":-70,"b":80,"c":-140,"d":170},{"x":0.91,"a":-60,"b":70,"c":-130,"d":140},{"x":0.92,"a":-70,"b":80,"c":-150,"d":150},{"x":0.93,"a":-70,"b":80,"c":-140,"d":130},{"x":0.94,"a":-60,"b":70,"c":-120,"d":130},{"x":0.95,"a":-70,"b":80,"c":-150,"d":140},{"x":0.96,"a":-70,"b":80,"c":-130,"d":150},{"x":0.97,"a":-80,"b":90,"c":-170,"d":160},{"x":0.98,"a":-100,"b":110,"c":-250,"d":250},{"x":0.99,"a":-250,"b":300,"c":-720,"d":630}
 ],
 "p6": [
{"x":0,"a":0.1,"b":1.0,"c":0,"d":4.0},{"x":50,"a":0.1,"b":0.4,"c":0,"d":0.6},{"x":100,"a":0.3,"b":1.5,"c":0.1,"d":3.8},{"x":150,"a":0.3,"b":1.6,"c":0.1,"d":2.6},{"x":200,"a":0.5,"b":2.2,"c":0.1,"d":3.9},{"x":250,"a":0.8,"b":2.8,"c":0.2,"d":4.7},{"x":300,"a":0.5,"b":2.0,"c":0.1,"d":2.6},{"x":350,"a":0.3,"b":1.4,"c":0.1,"d":2.0},{"x":400,"a":0.2,"b":0.8,"c":0.05,"d":1.2},{"x":450,"a":0.2,"b":0.5,"c":0.05,"d":0.8},
{"x":500,"a":0.3,"b":0.9,"c":0.1,"d":1.3},{"x":550,"a":0.3,"b":1.0,"c":0.1,"d":1.4},{"x":600,"a":0.4,"b":1.2,"c":0.1,"d":1.8},{"x":650,"a":0.3,"b":1.0,"c":0.1,"d":1.7},{"x":700,"a":0.4,"b":1.3,"c":0.1,"d":1.8},{"x":750,"a":0.5,"b":1.5,"c":0.1,"d":2.1},{"x":800,"a":0.5,"b":1.4,"c":0.1,"d":2.0},{"x":850,"a":0.4,"b":1.2,"c":0.1,"d":1.8},{"x":900,"a":0.5,"b":1.8,"c":0.1,"d":2.6},{"x":950,"a":0.7,"b":2.2,"c":0.2,"d":3.1},
{"x":1000,"a":0.8,"b":2.6,"c":0.2,"d":3.6},{"x":1050,"a":1.2,"b":4.5,"c":0.3,"d":6.0},{"x":1100,"a":1.5,"b":6.5,"c":0.4,"d":10.5},{"x":1150,"a":1.2,"b":5.0,"c":0.3,"d":8.0},{"x":1200,"a":1.0,"b":4.0,"c":0.3,"d":5.5},{"x":1250,"a":1.0,"b":4.2,"c":0.3,"d":6.3},{"x":1300,"a":0.8,"b":3.2,"c":0.2,"d":4.8},{"x":1350,"a":0.6,"b":2.4,"c":0.2,"d":3.5},{"x":1400,"a":0.8,"b":2.8,"c":0.2,"d":4.3},{"x":1450,"a":1.0,"b":3.2,"c":0.3,"d":4.4},
{"x":1500,"a":1.0,"b":3.4,"c":0.3,"d":4.5},{"x":1550,"a":1.2,"b":3.8,"c":0.3,"d":5.5},{"x":1600,"a":0.8,"b":2.6,"c":0.2,"d":3.6},{"x":1650,"a":0.6,"b":1.8,"c":0.2,"d":2.4},{"x":1700,"a":0.5,"b":1.5,"c":0.1,"d":2.0},{"x":1750,"a":0.4,"b":1.1,"c":0.1,"d":1.6},{"x":1800,"a":0.3,"b":0.8,"c":0.1,"d":1.2},{"x":1850,"a":0.3,"b":0.7,"c":0.1,"d":1.0},{"x":1900,"a":0.4,"b":0.9,"c":0.1,"d":1.3},{"x":1950,"a":0.5,"b":1.3,"c":0.1,"d":1.8},
{"x":2000,"a":0.6,"b":1.6,"c":0.2,"d":2.3},{"x":2050,"a":0.7,"b":1.9,"c":0.2,"d":2.8},{"x":2100,"a":0.7,"b":2.0,"c":0.2,"d":2.7},{"x":2150,"a":0.6,"b":1.6,"c":0.2,"d":2.2},{"x":2200,"a":0.4,"b":1.2,"c":0.1,"d":1.6},{"x":2250,"a":0.3,"b":0.9,"c":0.1,"d":1.2},{"x":2300,"a":0.2,"b":0.6,"c":0.05,"d":0.9},{"x":2350,"a":0.2,"b":0.5,"c":0.05,"d":0.7},{"x":2400,"a":0.2,"b":0.5,"c":0.05,"d":0.7},{"x":2450,"a":0.3,"b":0.8,"c":0.1,"d":1.1},
{"x":2500,"a":0.4,"b":1.1,"c":0.1,"d":1.5},{"x":2550,"a":0.5,"b":1.3,"c":0.1,"d":1.8},{"x":2600,"a":0.6,"b":1.5,"c":0.1,"d":2.2},{"x":2650,"a":0.7,"b":1.7,"c":0.2,"d":2.1},{"x":2700,"a":0.8,"b":2.0,"c":0.2,"d":2.6},{"x":2750,"a":1.0,"b":2.5,"c":0.3,"d":3.3},{"x":2800,"a":1.2,"b":2.8,"c":0.3,"d":3.6},{"x":2850,"a":1.0,"b":2.5,"c":0.3,"d":3.4},{"x":2900,"a":0.8,"b":2.0,"c":0.2,"d":2.8},{"x":2950,"a":0.5,"b":1.3,"c":0.1,"d":1.8},
{"x":3000,"a":0.3,"b":0.8,"c":0.1,"d":1.2},{"x":3050,"a":0.2,"b":0.5,"c":0.05,"d":0.7},{"x":3100,"a":0.15,"b":0.4,"c":0.05,"d":0.5},{"x":3150,"a":0.15,"b":0.3,"c":0.05,"d":0.45},{"x":3200,"a":0.15,"b":0.3,"c":0.05,"d":0.4},{"x":3250,"a":0.1,"b":0.3,"c":0.05,"d":0.35},{"x":3300,"a":0.1,"b":0.25,"c":0.05,"d":0.35},{"x":3350,"a":0.1,"b":0.3,"c":0.05,"d":0.4},{"x":3400,"a":0.1,"b":0.25,"c":0.05,"d":0.3},{"x":3450,"a":0.1,"b":0.3,"c":0.05,"d":0.35},
{"x":3500,"a":0.1,"b":0.25,"c":0.05,"d":0.3},{"x":3550,"a":0.1,"b":0.25,"c":0.05,"d":0.35},{"x":3600,"a":0.1,"b":0.2,"c":0.05,"d":0.3},{"x":3650,"a":0.1,"b":0.25,"c":0.05,"d":0.3},{"x":3700,"a":0.1,"b":0.2,"c":0.05,"d":0.3},{"x":3750,"a":0.1,"b":0.25,"c":0.05,"d":0.35},{"x":3800,"a":0.1,"b":0.2,"c":0.05,"d":0.3},{"x":3850,"a":0.1,"b":0.2,"c":0.05,"d":0.25},{"x":3900,"a":0.1,"b":0.25,"c":0.05,"d":0.3},{"x":3950,"a":0.1,"b":0.2,"c":0.05,"d":0.3},
{"x":4000,"a":0.1,"b":0.2,"c":0.05,"d":0.25},{"x":4050,"a":0.1,"b":0.2,"c":0.05,"d":0.3},{"x":4100,"a":0.1,"b":0.25,"c":0.05,"d":0.35},{"x":4150,"a":0.1,"b":0.3,"c":0.05,"d":0.45},{"x":4200,"a":0.1,"b":0.3,"c":0.05,"d":0.4},{"x":4250,"a":0.1,"b":0.25,"c":0.05,"d":0.35},{"x":4300,"a":0.1,"b":0.25,"c":0.05,"d":0.3},{"x":4350,"a":0.1,"b":0.2,"c":0.05,"d":0.3},{"x":4400,"a":0.1,"b":0.2,"c":0.05,"d":0.25},{"x":4450,"a":0.1,"b":0.2,"c":0.05,"d":0.3},
{"x":4500,"a":0.1,"b":0.25,"c":0.05,"d":0.3},{"x":4550,"a":0.1,"b":0.25,"c":0.05,"d":0.35},{"x":4600,"a":0.1,"b":0.25,"c":0.05,"d":0.35},{"x":4650,"a":0.1,"b":0.25,"c":0.05,"d":0.3},{"x":4700,"a":0.1,"b":0.2,"c":0.05,"d":0.3},{"x":4750,"a":0.1,"b":0.2,"c":0.05,"d":0.25},{"x":4800,"a":0.1,"b":0.2,"c":0.05,"d":0.25},{"x":4850,"a":0.1,"b":0.2,"c":0.05,"d":0.3},{"x":4900,"a":0.1,"b":0.2,"c":0.05,"d":0.25},{"x":4950,"a":0.1,"b":0.2,"c":0.05,"d":0.25}
 ]
},
"concat": [
 {
  "width": 223, "height": 52,
  "view": {"stroke": null},
  "data": {"values": [{"l1": "fferent gear faults through the time-frequency spectra [28]. Thus the new approach based on", "l2": "A-SR-KELM is applied to the single and multiple faults diagnosis of the gearbox."}]},
  "layer": [
   {"mark": {"type": "text", "align": "left", "baseline": "alphabetic", "font": "Liberation Serif", "fontSize": 14.8, "color": "#111", "dx": -155, "dy": -22}, "encoding": {"text": {"field": "l1"}}},
   {"mark": {"type": "text", "align": "left", "baseline": "alphabetic", "font": "Liberation Serif", "fontSize": 14.8, "color": "#111", "dx": -151.5, "dy": -5.5}, "encoding": {"text": {"field": "l2"}}}
  ]
 },
 {"width": 243, "height": 52, "view": {"stroke": null}, "data": {"values": [{}]}, "mark": {"type": "text", "text": ""}},
 {
  "width": 223, "height": 194,
  "data": {"name": "p1"},
  "layer": [
   {"mark": {"type": "rule", "color": "#0000ff", "strokeWidth": 1, "opacity": 0.55, "clip": true},
    "encoding": {
     "x": {"field": "x", "type": "quantitative", "scale": {"domain": [0, 1], "nice": false}, "axis": {"orient": "top", "values": [0, 0.2, 0.4, 0.6, 0.8, 1], "labels": false, "title": null}},
     "y": {"field": "c", "type": "quantitative", "scale": {"domain": [-800, 600], "nice": false}, "axis": {"orient": "right", "values": [-800, -600, -400, -200, 0, 200, 400, 600], "labels": false, "title": null}},
     "y2": {"field": "d"}}},
   {"mark": {"type": "rule", "color": "#0000ff", "strokeWidth": 2.3, "clip": true},
    "encoding": {
     "x": {"field": "x", "type": "quantitative", "scale": {"domain": [0, 1], "nice": false}, "axis": {"orient": "bottom", "values": [0, 0.2, 0.4, 0.6, 0.8, 1], "labelExpr": "'' + datum.value", "title": "Time (s)", "titleFontSize": 10.5, "titlePadding": 0}},
     "y": {"field": "a", "type": "quantitative", "scale": {"domain": [-800, 600], "nice": false}, "axis": {"orient": "left", "values": [-800, -600, -400, -200, 0, 200, 400, 600], "labelExpr": "'' + datum.value", "title": "Amplitude (μV)", "titleFontSize": 10.5, "titlePadding": 3}},
     "y2": {"field": "b"}}}
  ],
  "resolve": {"axis": {"x": "independent", "y": "independent"}}
 },
 {
  "width": 243, "height": 194,
  "data": {"name": "p2"},
  "layer": [
   {"mark": {"type": "rule", "color": "#0000ff", "strokeWidth": 1, "opacity": 0.55, "clip": true},
    "encoding": {
     "x": {"field": "x", "type": "quantitative", "scale": {"domain": [0, 5000], "nice": false}, "axis": {"orient": "top", "values": [0, 1000, 2000, 3000, 4000, 5000], "labels": false, "title": null}},
     "y": {"field": "c", "type": "quantitative", "scale": {"domain": [0, 6], "nice": false}, "axis": {"orient": "right", "values": [0, 1, 2, 3, 4, 5, 6], "labels": false, "title": null}},
     "y2": {"field": "d"}}},
   {"mark": {"type": "rule", "color": "#0000ff", "strokeWidth": 2.5, "clip": true},
    "encoding": {
     "x": {"field": "x", "type": "quantitative", "scale": {"domain": [0, 5000], "nice": false}, "axis": {"orient": "bottom", "values": [0, 1000, 2000, 3000, 4000, 5000], "labelExpr": "'' + datum.value", "title": "Frequency (Hz)", "titleFontSize": 8.5, "titlePadding": 0}},
     "y": {"field": "a", "type": "quantitative", "scale": {"domain": [0, 6], "nice": false}, "axis": {"orient": "left", "values": [0, 1, 2, 3, 4, 5, 6], "labelExpr": "'' + datum.value", "title": "Amplitude", "titleFontSize": 10, "titlePadding": 2}},
     "y2": {"field": "b"}}},
   {"data": {"values": [{"s": "x 10", "e": "4"}]},
    "mark": {"type": "text", "align": "left", "baseline": "alphabetic", "font": "Liberation Sans", "fontWeight": "bold", "fontSize": 8, "color": "#1a1a1a", "dx": 1, "dy": -2},
    "encoding": {"x": {"datum": 0, "type": "quantitative", "axis": null}, "y": {"datum": 6, "type": "quantitative", "axis": null}, "text": {"field": "s"}}},
   {"data": {"values": [{"s": "x 10", "e": "4"}]},
    "mark": {"type": "text", "align": "left", "baseline": "alphabetic", "font": "Liberation Sans", "fontWeight": "bold", "fontSize": 5.5, "color": "#1a1a1a", "dx": 17.5, "dy": -6},
    "encoding": {"x": {"datum": 0, "type": "quantitative", "axis": null}, "y": {"datum": 6, "type": "quantitative", "axis": null}, "text": {"field": "e"}}}
  ],
  "resolve": {"axis": {"x": "independent", "y": "independent"}}
 },
 {
  "width": 223, "height": 65,
  "view": {"stroke": null},
  "data": {"values": [{"f": "Fig. 3.", "c": "The time and frequency spectra of the normal gear pair"}]},
  "layer": [
   {"mark": {"type": "text", "align": "right", "baseline": "alphabetic", "font": "Liberation Serif", "fontSize": 13.5, "fontWeight": "bold", "color": "#111", "dx": -9, "dy": 2}, "encoding": {"text": {"field": "f"}}},
   {"mark": {"type": "text", "align": "left", "baseline": "alphabetic", "font": "Liberation Serif", "fontSize": 13.5, "color": "#111", "dx": -5.5, "dy": 2}, "encoding": {"text": {"field": "c"}}}
  ]
 },
 {"width": 243, "height": 65, "view": {"stroke": null}, "data": {"values": [{}]}, "mark": {"type": "text", "text": ""}},
 {
  "width": 223, "height": 198,
  "data": {"name": "p3"},
  "layer": [
   {"mark": {"type": "rule", "color": "#0000ff", "strokeWidth": 1, "opacity": 0.55, "clip": true},
    "encoding": {
     "x": {"field": "x", "type": "quantitative", "scale": {"domain": [0, 1], "nice": false}, "axis": {"orient": "top", "values": [0, 0.2, 0.4, 0.6, 0.8, 1], "labels": false, "title": null}},
     "y": {"field": "c", "type": "quantitative", "scale": {"domain": [-800, 800], "nice": false}, "axis": {"orient": "right", "values": [-800, -600, -400, -200, 0, 200, 400, 600, 800], "labels": false, "title": null}},
     "y2": {"field": "d"}}},
   {"mark": {"type": "rule", "color": "#0000ff", "strokeWidth": 2.3, "clip": true},
    "encoding": {
     "x": {"field": "x", "type": "quantitative", "scale": {"domain": [0, 1], "nice": false}, "axis": {"orient": "bottom", "values": [0, 0.2, 0.4, 0.6, 0.8, 1], "labelExpr": "'' + datum.value", "title": "Time (s)", "titleFontSize": 10.5, "titlePadding": 0}},
     "y": {"field": "a", "type": "quantitative", "scale": {"domain": [-800, 800], "nice": false}, "axis": {"orient": "left", "values": [-800, -600, -400, -200, 0, 200, 400, 600, 800], "labelExpr": "'' + datum.value", "title": "Amplitude (μV)", "titleFontSize": 10.5, "titlePadding": 3}},
     "y2": {"field": "b"}}}
  ],
  "resolve": {"axis": {"x": "independent", "y": "independent"}}
 },
 {
  "width": 243, "height": 198,
  "data": {"name": "p4"},
  "layer": [
   {"mark": {"type": "rule", "color": "#0000ff", "strokeWidth": 1, "opacity": 0.55, "clip": true},
    "encoding": {
     "x": {"field": "x", "type": "quantitative", "scale": {"domain": [0, 5000], "nice": false}, "axis": {"orient": "top", "values": [0, 1000, 2000, 3000, 4000, 5000], "labels": false, "title": null}},
     "y": {"field": "c", "type": "quantitative", "scale": {"domain": [0, 7], "nice": false}, "axis": {"orient": "right", "values": [0, 1, 2, 3, 4, 5, 6, 7], "labels": false, "title": null}},
     "y2": {"field": "d"}}},
   {"mark": {"type": "rule", "color": "#0000ff", "strokeWidth": 2.5, "clip": true},
    "encoding": {
     "x": {"field": "x", "type": "quantitative", "scale": {"domain": [0, 5000], "nice": false}, "axis": {"orient": "bottom", "values": [0, 1000, 2000, 3000, 4000, 5000], "labelExpr": "'' + datum.value", "title": "Frequency (Hz)", "titleFontSize": 8.5, "titlePadding": 0}},
     "y": {"field": "a", "type": "quantitative", "scale": {"domain": [0, 7], "nice": false}, "axis": {"orient": "left", "values": [0, 1, 2, 3, 4, 5, 6, 7], "labelExpr": "'' + datum.value", "title": "Amplitude", "titleFontSize": 10, "titlePadding": 2}},
     "y2": {"field": "b"}}},
   {"data": {"values": [{"s": "x 10", "e": "4"}]},
    "mark": {"type": "text", "align": "left", "baseline": "alphabetic", "font": "Liberation Sans", "fontWeight": "bold", "fontSize": 8, "color": "#1a1a1a", "dx": 1, "dy": -2},
    "encoding": {"x": {"datum": 0, "type": "quantitative", "axis": null}, "y": {"datum": 7, "type": "quantitative", "axis": null}, "text": {"field": "s"}}},
   {"data": {"values": [{"s": "x 10", "e": "4"}]},
    "mark": {"type": "text", "align": "left", "baseline": "alphabetic", "font": "Liberation Sans", "fontWeight": "bold", "fontSize": 5.5, "color": "#1a1a1a", "dx": 17.5, "dy": -6},
    "encoding": {"x": {"datum": 0, "type": "quantitative", "axis": null}, "y": {"datum": 7, "type": "quantitative", "axis": null}, "text": {"field": "e"}}}
  ],
  "resolve": {"axis": {"x": "independent", "y": "independent"}}
 },
 {
  "width": 223, "height": 66,
  "view": {"stroke": null},
  "data": {"values": [{"f": "Fig. 4.", "c": "The time and frequency spectra of the single worn gear"}]},
  "layer": [
   {"mark": {"type": "text", "align": "right", "baseline": "alphabetic", "font": "Liberation Serif", "fontSize": 13.5, "fontWeight": "bold", "color": "#111", "dx": -7, "dy": 0.5}, "encoding": {"text": {"field": "f"}}},
   {"mark": {"type": "text", "align": "left", "baseline": "alphabetic", "font": "Liberation Serif", "fontSize": 13.5, "color": "#111", "dx": -3.5, "dy": 0.5}, "encoding": {"text": {"field": "c"}}}
  ]
 },
 {"width": 243, "height": 66, "view": {"stroke": null}, "data": {"values": [{}]}, "mark": {"type": "text", "text": ""}},
 {
  "width": 223, "height": 195,
  "data": {"name": "p5"},
  "layer": [
   {"mark": {"type": "rule", "color": "#0000ff", "strokeWidth": 1, "opacity": 0.55, "clip": true},
    "encoding": {
     "x": {"field": "x", "type": "quantitative", "scale": {"domain": [0, 1], "nice": false}, "axis": {"orient": "top", "values": [0, 0.2, 0.4, 0.6, 0.8, 1], "labels": false, "title": null}},
     "y": {"field": "c", "type": "quantitative", "scale": {"domain": [-2000, 2000], "nice": false}, "axis": {"orient": "right", "values": [-2000, -1500, -1000, -500, 0, 500, 1000, 1500, 2000], "labels": false, "title": null}},
     "y2": {"field": "d"}}},
   {"mark": {"type": "rule", "color": "#0000ff", "strokeWidth": 2.3, "clip": true},
    "encoding": {
     "x": {"field": "x", "type": "quantitative", "scale": {"domain": [0, 1], "nice": false}, "axis": {"orient": "bottom", "values": [0, 0.2, 0.4, 0.6, 0.8, 1], "labelExpr": "'' + datum.value", "title": "Time (s)", "titleFontSize": 10.5, "titlePadding": 0}},
     "y": {"field": "a", "type": "quantitative", "scale": {"domain": [-2000, 2000], "nice": false}, "axis": {"orient": "left", "values": [-2000, -1500, -1000, -500, 0, 500, 1000, 1500, 2000], "labelExpr": "'' + datum.value", "title": "Amplitude (μV)", "titleFontSize": 10.5, "titlePadding": 1}},
     "y2": {"field": "b"}}}
  ],
  "resolve": {"axis": {"x": "independent", "y": "independent"}}
 },
 {
  "width": 243, "height": 195,
  "data": {"name": "p6"},
  "layer": [
   {"mark": {"type": "rule", "color": "#0000ff", "strokeWidth": 1, "opacity": 0.55, "clip": true},
    "encoding": {
     "x": {"field": "x", "type": "quantitative", "scale": {"domain": [0, 5000], "nice": false}, "axis": {"orient": "top", "values": [0, 1000, 2000, 3000, 4000, 5000], "labels": false, "title": null}},
     "y": {"field": "c", "type": "quantitative", "scale": {"domain": [0, 12], "nice": false}, "axis": {"orient": "right", "values": [0, 2, 4, 6, 8, 10, 12], "labels": false, "title": null}},
     "y2": {"field": "d"}}},
   {"mark": {"type": "rule", "color": "#0000ff", "strokeWidth": 2.5, "clip": true},
    "encoding": {
     "x": {"field": "x", "type": "quantitative", "scale": {"domain": [0, 5000], "nice": false}, "axis": {"orient": "bottom", "values": [0, 1000, 2000, 3000, 4000, 5000], "labelExpr": "'' + datum.value", "title": "Frequency (Hz)", "titleFontSize": 8.5, "titlePadding": 0}},
     "y": {"field": "a", "type": "quantitative", "scale": {"domain": [0, 12], "nice": false}, "axis": {"orient": "left", "values": [0, 2, 4, 6, 8, 10, 12], "labelExpr": "'' + datum.value", "title": "Amplitude", "titleFontSize": 10, "titlePadding": 2}},
     "y2": {"field": "b"}}},
   {"data": {"values": [{"s": "x 10", "e": "4"}]},
    "mark": {"type": "text", "align": "left", "baseline": "alphabetic", "font": "Liberation Sans", "fontWeight": "bold", "fontSize": 8, "color": "#1a1a1a", "dx": 1, "dy": -2},
    "encoding": {"x": {"datum": 0, "type": "quantitative", "axis": null}, "y": {"datum": 12, "type": "quantitative", "axis": null}, "text": {"field": "s"}}},
   {"data": {"values": [{"s": "x 10", "e": "4"}]},
    "mark": {"type": "text", "align": "left", "baseline": "alphabetic", "font": "Liberation Sans", "fontWeight": "bold", "fontSize": 5.5, "color": "#1a1a1a", "dx": 17.5, "dy": -6},
    "encoding": {"x": {"datum": 0, "type": "quantitative", "axis": null}, "y": {"datum": 12, "type": "quantitative", "axis": null}, "text": {"field": "e"}}}
  ],
  "resolve": {"axis": {"x": "independent", "y": "independent"}}
 }
]
}
